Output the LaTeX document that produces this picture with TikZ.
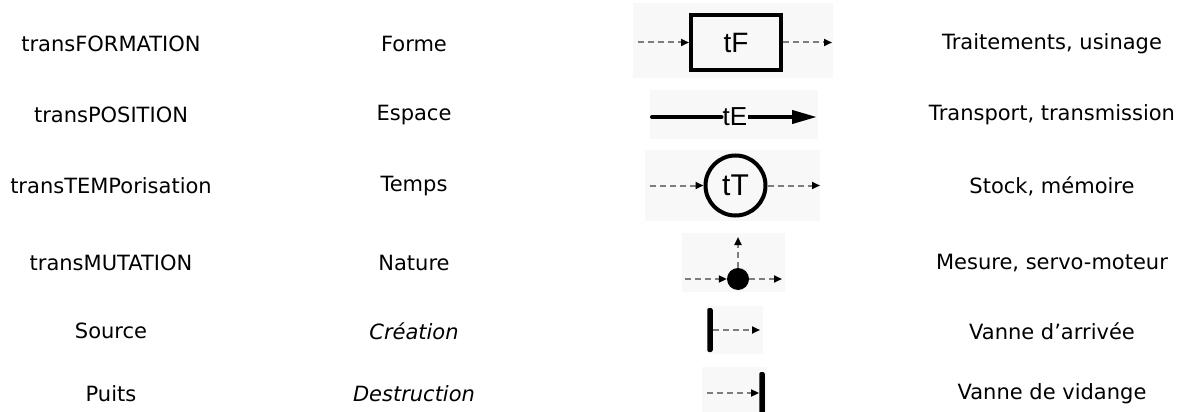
\documentclass[tikz,border=0pt]{standalone}
\usepackage{fontspec}
\setmainfont{DejaVu Sans}
\newfontfamily\arialfont{Liberation Sans}
\usetikzlibrary{arrows.meta}
\definecolor{bgpatch}{RGB}{248,248,248}
\definecolor{dashgray}{RGB}{125,125,125}
\tikzset{
  lbl/.style={font=\fontsize{21}{24}\selectfont, inner sep=0pt, anchor=center},
  dflow/.style={draw=dashgray, line width=2pt, dash pattern=on 6pt off 4pt,
    -{Triangle[length=8pt,width=7pt,color=black]}},
  sym/.style={font=\arialfont\fontsize{28}{30}\selectfont},
  bar/.style={rectangle, fill=black, inner sep=0pt, minimum width=5.5pt, rounded corners=2pt},
  patch/.style={fill=bgpatch, draw=none}
}
\begin{document}
\begin{tikzpicture}[x=1pt,y=-1pt]
\useasboundingbox (0,0) rectangle (1187,412);
% background patches of the symbol images
\path[patch] (633,3) rectangle (833,78);
\path[patch] (650,90) rectangle (818,139);
\path[patch] (645,150) rectangle (820,221);
\path[patch] (682,233) rectangle (785,292);
\path[patch] (707,306) rectangle (763,354);
\path[patch] (702,367) rectangle (767,412);

% column 1
\node[lbl] (a1) at (111,44) {transFORMATION};
\node[lbl] (a2) at (111,115) {transPOSITION};
\node[lbl] (a3) at (111,186) {transTEMPorisation};
\node[lbl] (a4) at (111,263) {transMUTATION};
\node[lbl] (a5) at (111,331) {Source};
\node[lbl] (a6) at (111,394) {Puits};
% column 2
\node[lbl] (b1) at (414,44) {Forme};
\node[lbl] (b2) at (414,115) {Espace};
\node[lbl] (b3) at (414,186) {Temps};
\node[lbl] (b4) at (414,263) {Nature};
\node[lbl] (b5) at (414,331) {\itshape Création};
\node[lbl] (b6) at (414,394) {\itshape Destruction};
% column 4
\node[lbl] (d1) at (1052,44) {Traitements, usinage};
\node[lbl] (d2) at (1052,115) {Transport, transmission};
\node[lbl] (d3) at (1052,186) {Stock, mémoire};
\node[lbl] (d4) at (1052,263) {Mesure, servo-moteur};
\node[lbl] (d5) at (1052,331) {Vanne d’arrivée};
\node[lbl] (d6) at (1052,394) {Vanne de vidange};

% tF
\node[sym, draw, line width=4pt, minimum width=90pt, minimum height=55pt, inner sep=0pt] (tF) at (736,42.5) {tF};
\coordinate (tFin) at (638,42.5);
\coordinate (tFout) at (832,42.5);
\draw[dflow] (tFin) -- (tF.west);
\draw[dflow] (tF.east) -- (tFout);

% tE
\node[font=\arialfont\fontsize{26}{28}\selectfont, inner sep=1pt] (tE) at (735,117) {tE};
\coordinate (tEin) at (652,117);
\coordinate (tEout) at (817,117);
\draw[line width=4pt, line cap=round] (tEin) -- (tE.west);
\draw[line width=4pt, -{Triangle[length=25pt,width=13pt]}] (tE.east) -- (tEout);

% tT
\node[sym, font=\arialfont\fontsize{30}{32}\selectfont, draw, circle, line width=4pt, minimum size=60pt, inner sep=0pt] (tT) at (735.5,185.5) {tT};
\coordinate (tTin) at (650,185.5);
\coordinate (tTout) at (820,185.5);
\draw[dflow] (tTin) -- (tT.west);
\draw[dflow] (tT.east) -- (tTout);

% mutation
\node[circle, fill=black, minimum size=22pt, inner sep=0pt] (dot) at (738,279) {};
\coordinate (mIn) at (685,279);
\coordinate (mOut) at (782,279);
\coordinate (mUp) at (738,237);
\draw[dflow] (mIn) -- (dot.west);
\draw[dflow] (dot.east) -- (mOut);
\draw[dflow] (dot.north) -- (mUp);

% source
\node[bar, minimum height=44pt] (src) at (710,330) {};
\coordinate (srcOut) at (760,330);
\draw[dflow] (src.east) -- (srcOut);

% puits
\node[bar, minimum height=42pt] (pts) at (762,393) {};
\coordinate (ptsIn) at (707,393);
\draw[dflow] (ptsIn) -- (pts.west);
\end{tikzpicture}
\end{document}
